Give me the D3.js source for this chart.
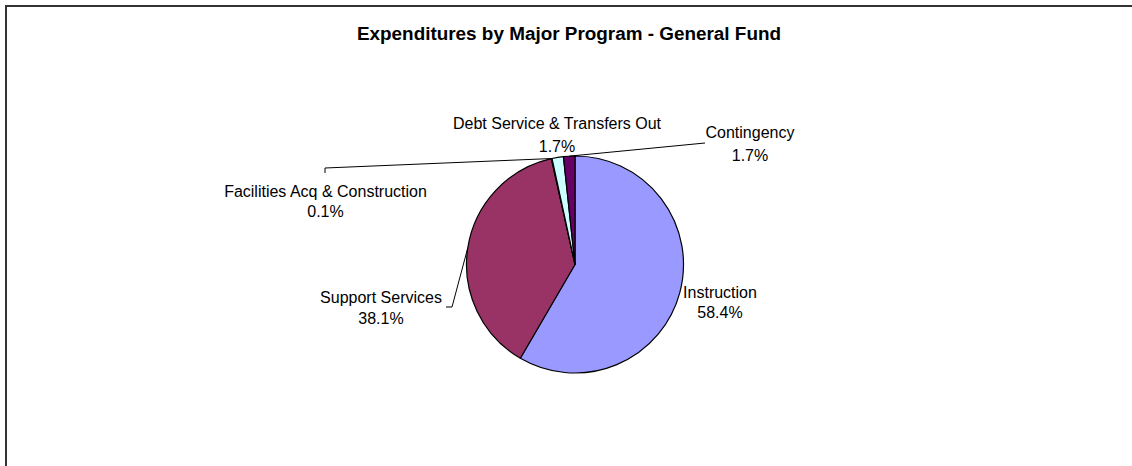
<!DOCTYPE html>
<html>
<head>
<meta charset="utf-8">
<script src="https://cdn.jsdelivr.net/npm/d3@7"></script>
<style>
  html, body { margin: 0; padding: 0; background: #fff; }
  svg { display: block; }
  text { font-family: "Liberation Sans", Arial, sans-serif; fill: #000; }
</style>
</head>
<body>
<svg id="chart" width="1132" height="466"></svg>
<script>
// Expenditures by major program, General Fund (share of total, %)
const programs = ["Instruction", "Support Services", "Facilities Acq & Construction",
                  "Debt Service & Transfers Out", "Contingency"];
const shares = [58.4, 38.1, 0.1, 1.7, 1.7];
const sliceColors = ["#9999FF", "#993366", "#FFFFCC", "#CCFFFF", "#660066"];
const chartTitle = "Expenditures by Major Program - General Fund";

const width = 1132, height = 466;
const cx = 575, cy = 264.5, radius = 108.5;

// Label placement relative to pie centre: text centre x, first baseline y,
// spacing to the percentage line, and optional leader polyline points
// (the slice edge point is prepended).
const labelLayout = [
  { x: 145, y: 33, gap: 20, leader: null },
  { x: -194, y: 38.5, gap: 21, leader: [[-123, 42.5], [-129, 42.5]] },
  { x: -249.5, y: -67.5, gap: 19.5, leader: [[-250, -96.5], [-250, -91.5]] },
  { x: -18, y: -135.5, gap: 23, leader: null },
  { x: 175, y: -127, gap: 23, leader: [[130, -121.5]] }
];

const svg = d3.select("#chart");

// chart area frame
svg.append("path")
  .attr("d", `M6,${height} V6 H${width}`)
  .attr("fill", "none")
  .attr("stroke", "#333")
  .attr("stroke-width", 2);

svg.append("text")
  .attr("x", 569)
  .attr("y", 40)
  .attr("text-anchor", "middle")
  .style("font-weight", "bold")
  .style("font-size", "18.9px")
  .text(chartTitle);

const pie = d3.pie().sort(null).value(d => d)
  .startAngle(0).endAngle(2 * Math.PI);
const arcs = pie(shares);
const arc = d3.arc().innerRadius(0).outerRadius(radius);

const g = svg.append("g").attr("transform", `translate(${cx},${cy})`);

g.selectAll("path.slice")
  .data(arcs)
  .join("path")
  .attr("class", "slice")
  .attr("d", arc)
  .attr("fill", (d, i) => sliceColors[i])
  .attr("stroke", "#000")
  .attr("stroke-width", 1.2)
  .attr("stroke-linejoin", "round");

// leader lines from slice edge to label
const line = d3.line();
arcs.forEach((d, i) => {
  const lay = labelLayout[i];
  if (!lay.leader) return;
  const mid = (d.startAngle + d.endAngle) / 2;
  const edge = [radius * Math.sin(mid), -radius * Math.cos(mid)];
  g.append("path")
    .attr("d", line([edge, ...lay.leader]))
    .attr("fill", "none")
    .attr("stroke", "#000")
    .attr("stroke-width", 1);
});

const fmt = v => v.toFixed(1) + "%";
arcs.forEach((d, i) => {
  const lay = labelLayout[i];
  const t = g.append("text")
    .attr("text-anchor", "middle")
    .style("font-size", "16px");
  t.append("tspan").attr("x", lay.x).attr("y", lay.y).text(programs[i]);
  t.append("tspan").attr("x", lay.x).attr("y", lay.y + lay.gap).text(fmt(shares[i]));
});
</script>
</body>
</html>
